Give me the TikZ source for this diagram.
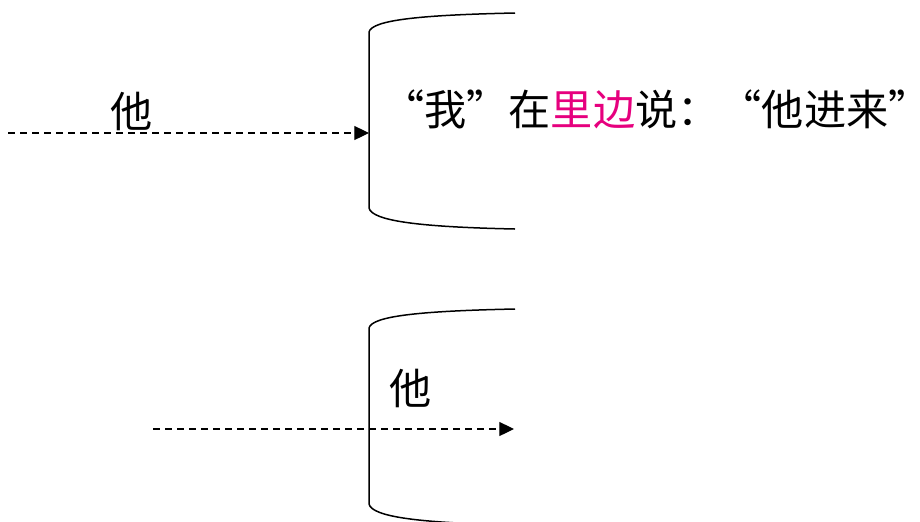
\documentclass[tikz,border=0pt]{standalone}
\usepackage{fontspec}
\newfontfamily\cjk{Noto Sans CJK SC}
\usetikzlibrary{arrows.meta}
\definecolor{mag}{RGB}{230,0,126}
\begin{document}
\begin{tikzpicture}[x=0.03cm,y=-0.03cm, every node/.style={inner sep=0pt,font=\cjk\fontsize{36}{36}\selectfont}]
			\useasboundingbox (0,0) rectangle (920,521);
			% upper bracket
			\draw[line width=0.45mm] (515,13) .. controls (420,15) and (372,20) .. (369,32) -- (369,208) .. controls (372,221) and (420,227) .. (515,229);
			% lower bracket
			\draw[line width=0.45mm] (515,309) .. controls (420,311) and (372,316) .. (369,328) -- (369,504) .. controls (372,517) and (420,523) .. (515,525);
			\coordinate (s1) at (8,133); \coordinate (e1) at (369,133);
			\coordinate (s2) at (153,429); \coordinate (e2) at (514,429);
			\draw[line width=0.35mm,dash pattern=on 2.1mm off 1.5mm,-{Triangle[length=4.4mm,width=4.2mm]}] (s1) -- (e1);
			\draw[line width=0.35mm,dash pattern=on 2.1mm off 1.5mm,-{Triangle[length=4.4mm,width=4.2mm]}] (s2) -- (e2);
			\node (ta) at (132,111) {他};
			\node[anchor=west] (said) at (382,109) {“我”在\textcolor{mag}{里边}说：“他进来\rlap{”}};
			\node (tb) at (411,388) {他};
\end{tikzpicture}
\end{document}
